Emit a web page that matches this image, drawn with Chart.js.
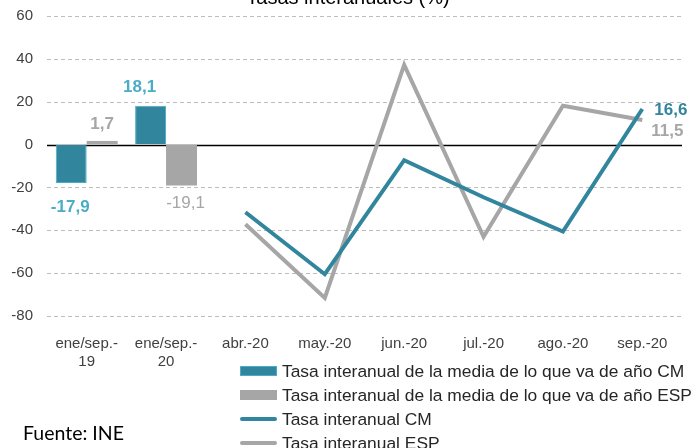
<!DOCTYPE html>
<html>
<head>
<meta charset="utf-8">
<script src="https://cdn.jsdelivr.net/npm/chart.js@4.4.0/dist/chart.umd.min.js"></script>
<style>
body { margin: 0; width: 691px; height: 448px; overflow: hidden; background: #fff; position: relative; }
#box { position: absolute; left: 0; top: 0; width: 691px; height: 448px; }
#legend { position: absolute; left: 240px; top: 359px; font-family: 'Liberation Sans', Arial, sans-serif; font-size: 17.4px; color: #262626; }
.row { height: 24px; display: flex; align-items: center; white-space: nowrap; }
.mark { width: 37px; margin-right: 5px; box-sizing: border-box; }
#src { position: absolute; left: 23px; top: 421px; font-family: Lato, sans-serif; font-size: 19.5px; color: #000; }
</style>
</head>
<body>
<div id="box"><canvas id="myChart" width="691" height="448"></canvas></div>
<div id="legend"></div>
<div id="src">Fuente: INE</div>
<script>
var categories = [['ene/sep.-', '19'], ['ene/sep.-', '20'], 'abr.-20', 'may.-20', 'jun.-20', 'jul.-20', 'ago.-20', 'sep.-20'];
var mediaCM = [-17.9, 18.1, null, null, null, null, null, null];
var mediaESP = [1.7, -19.1, null, null, null, null, null, null];
var tasaCM = [null, null, -31.6, -60.5, -7.3, -24.6, -40.6, 16.6];
var tasaESP = [null, null, -37.2, -71.6, 37.2, -43.0, 18.1, 11.5];
var yTicks = [-80, -60, -40, -20, 0, 20, 40, 60];

var teal = '#31859C', tealLight = '#4BACC6', grey = '#A6A6A6';
var font = "'Liberation Sans', Arial, sans-serif";

// which values get a number printed next to them: [dataset, index, dx, dy, colour, bold, align]
var valueLabels = [
    [0, 0, -1, 24, tealLight, true, 'center'],
    [0, 1, -11, -18, tealLight, true, 'center'],
    [1, 0, 0, -17, grey, true, 'center'],
    [1, 1, 4, 18, grey, false, 'center'],
    [2, 7, 12, 1, teal, true, 'left'],
    [3, 7, 9, 11, grey, true, 'left']
];

function fmt(v) {
    return v.toFixed(1).replace('.', ',');
}

var extras = {
    id: 'extras',
    beforeDatasetsDraw: function(chart) {
        var c = chart.ctx, y = chart.scales.y, area = chart.chartArea;
        c.save();
        // dashed grid
        c.strokeStyle = '#BDBDBD';
        c.lineWidth = 1;
        c.setLineDash([4, 3]);
        yTicks.forEach(function(v) {
            if (v === 0) return;
            var py = Math.round(y.getPixelForValue(v)) + 0.5;
            c.beginPath();
            c.moveTo(area.left, py);
            c.lineTo(area.right, py);
            c.stroke();
        });
        c.setLineDash([]);
        var y0 = Math.round(y.getPixelForValue(0)) + 0.5;
        c.strokeStyle = '#000';
        c.lineWidth = 1.5;
        c.beginPath();
        c.moveTo(area.left, y0);
        c.lineTo(area.right, y0);
        c.stroke();
        c.restore();
    },
    afterDatasetsDraw: function(chart) {
        var c = chart.ctx;
        c.save();
        c.textBaseline = 'middle';
        valueLabels.forEach(function(l) {
            var el = chart.getDatasetMeta(l[0]).data[l[1]];
            var v = chart.data.datasets[l[0]].data[l[1]];
            c.font = (l[5] ? 'bold ' : '') + '17px ' + font;
            c.fillStyle = l[4];
            c.textAlign = l[6];
            c.fillText(fmt(v), el.x + l[2], el.y + l[3]);
        });
        // title, cut off by the top edge as in the original
        c.font = '20px ' + font;
        c.fillStyle = '#000';
        c.textAlign = 'center';
        c.textBaseline = 'alphabetic';
        c.fillText('Tasas interanuales (%)', 348, 4);
        c.restore();
    }
};

var ctx = document.getElementById('myChart');
var myChart = new Chart(ctx, {
    data: {
        labels: categories,
        datasets: [{
            type: 'bar',
            label: 'Tasa interanual de la media de lo que va de año CM',
            data: mediaCM,
            backgroundColor: teal,
            borderColor: tealLight,
            borderWidth: 1,
            categoryPercentage: 0.78,
            barPercentage: 1
        }, {
            type: 'bar',
            label: 'Tasa interanual de la media de lo que va de año ESP',
            data: mediaESP,
            backgroundColor: grey,
            borderColor: grey,
            borderWidth: 0,
            categoryPercentage: 0.78,
            barPercentage: 1
        }, {
            type: 'line',
            label: 'Tasa interanual CM',
            data: tasaCM,
            borderColor: teal,
            backgroundColor: teal,
            borderWidth: 4,
            pointRadius: 0,
            tension: 0,
            borderJoinStyle: 'miter'
        }, {
            type: 'line',
            label: 'Tasa interanual ESP',
            data: tasaESP,
            borderColor: grey,
            backgroundColor: grey,
            borderWidth: 4,
            pointRadius: 0,
            tension: 0,
            borderJoinStyle: 'miter'
        }]
    },
    options: {
        responsive: false,
        animation: false,
        layout: { padding: { top: 0, right: 9, left: 0, bottom: 0 } },
        plugins: { legend: { display: false }, tooltip: { enabled: false } },
        scales: {
            x: {
                grid: { display: false },
                border: { display: false },
                ticks: { color: '#404040', font: { family: font, size: 15 }, padding: 11, maxRotation: 0, autoSkip: false },
                afterFit: function(scale) { scale.height = 132; }
            },
            y: {
                min: -80,
                max: 60,
                afterBuildTicks: function(scale) {
                    scale.ticks = yTicks.map(function(v) { return { value: v }; });
                },
                grid: { display: true, color: 'rgba(0,0,0,0)', drawTicks: true, tickLength: 7 },
                border: { display: false },
                ticks: { color: '#404040', font: { family: font, size: 15 }, padding: 7 },
                afterFit: function(scale) { scale.width = 47; }
            }
        }
    },
    plugins: [extras]
});

// legend, one entry per row, built from the datasets
var legend = document.getElementById('legend');
myChart.data.datasets.forEach(function(ds) {
    var row = document.createElement('div');
    row.className = 'row';
    var mark = document.createElement('span');
    mark.className = 'mark';
    if (ds.type === 'bar') {
        mark.style.height = '10px';
        mark.style.background = ds.backgroundColor;
        mark.style.border = ds.borderWidth ? '1px solid ' + ds.borderColor : 'none';
    } else {
        mark.style.height = '4px';
        mark.style.borderRadius = '2px';
        mark.style.background = ds.borderColor;
    }
    row.appendChild(mark);
    row.appendChild(document.createTextNode(ds.label));
    legend.appendChild(row);
});
</script>
</body>
</html>
